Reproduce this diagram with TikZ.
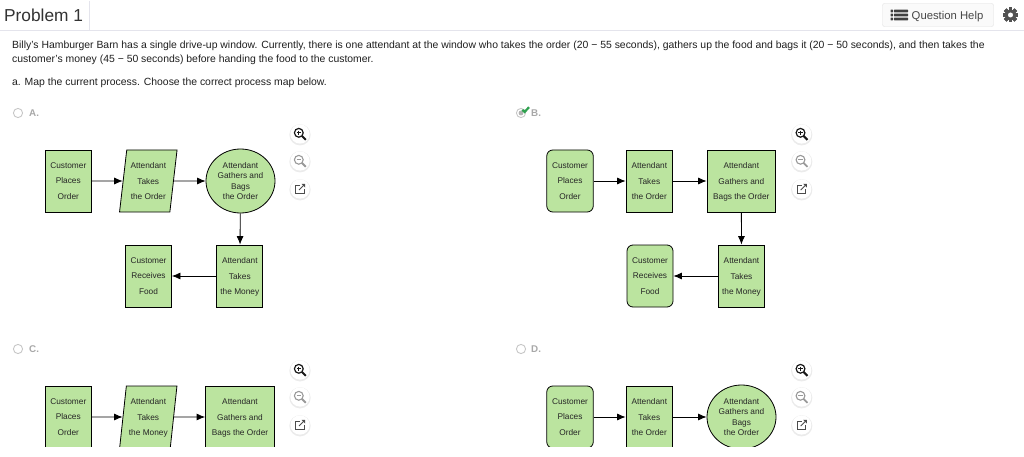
\documentclass[tikz,border=0pt]{standalone}
\usepackage{fontspec}
\setmainfont{Liberation Sans}
\usetikzlibrary{shapes.geometric,arrows.meta}
\definecolor{boxgreen}{HTML}{BBE49F}
\definecolor{hair}{HTML}{E4E4EC}
\definecolor{optgray}{HTML}{A8A8A8}
\definecolor{tick}{HTML}{2FA14F}
\tikzset{
  procbox/.style={draw=black,fill=boxgreen,line width=.8pt,inner sep=0pt,align=center,text=black!85,
    minimum height=62pt,text depth=0pt,font=\fontsize{8.3}{15.7}\selectfont},
  roundbox/.style={procbox,rounded corners=6pt},
  slantbox/.style={procbox,trapezium,trapezium left angle=81,trapezium right angle=99,trapezium stretches=true,minimum width=57.5pt},
  circbox/.style={procbox,ellipse,minimum width=69pt,minimum height=64pt,font=\fontsize{8.3}{10.6}\selectfont},
  flow/.style={-{Latex[length=8.5pt,width=7pt]},line width=.8pt,black},
  bodytext/.style={anchor=base west,inner sep=0pt,text=black!88,font=\fontsize{10.42}{12}\selectfont},
  optlabel/.style={anchor=base west,inner sep=0pt,text=optgray,font=\bfseries\fontsize{9.8}{11}\selectfont},
  radio/.style={draw=black!22,line width=.9pt,fill=white}
}
\newcommand{\mybuttons}[2]{%
  \foreach \dy/\c in {0/1,27/2,55/3}{
    \fill[black!8] (#1,#2+\dy+.8) circle (10.6pt);
    \fill[white] (#1,#2+\dy) circle (9.6pt);
  }
  \draw[black!90,line width=1.2pt] (#1-1.2,#2-1.2) circle (4.4pt);
  \draw[black!90,line width=2.1pt] (#1+1.8,#2+1.8) -- (#1+5.8,#2+5.8);
  \draw[black!90,line width=.9pt] (#1-3.4,#2-1.2) -- (#1+1,#2-1.2) (#1-1.2,#2-3.4) -- (#1-1.2,#2+1);
  \draw[black!40,line width=1.1pt] (#1-1.2,#2+25.8) circle (4.4pt);
  \draw[black!40,line width=1.8pt] (#1+1.8,#2+28.8) -- (#1+5.8,#2+32.8);
  \draw[black!40,line width=.8pt] (#1-3.4,#2+25.8) -- (#1+1,#2+25.8);
  \draw[black!70,line width=.9pt] (#1,#2+51) -- (#1-4.5,#2+51) -- (#1-4.5,#2+59.5) -- (#1+4,#2+59.5) -- (#1+4,#2+55);
  \draw[black!70,line width=1pt] (#1-1,#2+56) -- (#1+4,#2+51);
  \fill[black!70] (#1+1.5,#2+49.8) -- (#1+5.2,#2+49.8) -- (#1+5.2,#2+53.5) -- cycle;
}
\begin{document}
\begin{tikzpicture}[x=1pt,y=-1pt]
\useasboundingbox (0,0) rectangle (1024,457);
\fill[white] (0,0) rectangle (1024,457);
% header
\draw[hair,line width=.8pt] (0,30) -- (1024,30);
\draw[hair,line width=1pt] (89,1) -- (89,30);
\node[anchor=base west,inner sep=0pt,text=black!80,font=\fontsize{17.3}{20}\selectfont] (title) at (4,22) {Problem 1};
\draw[black!12,fill=black!2,rounded corners=2pt] (882.5,3.5) rectangle (993.5,26.5);
\foreach \yy in {11,15,19}{
  \fill[black!75,rounded corners=.6pt] (894,\yy-1.45) rectangle (908,\yy+1.45);
  \fill[black!75,rounded corners=.6pt] (890.5,\yy-1.45) rectangle (893,\yy+1.45);
}
\node[anchor=base west,inner sep=0pt,text=black!72,font=\fontsize{11.3}{13}\selectfont] (help) at (911.5,19.5) {Question Help};
\foreach \a in {0,45,...,315}
  \fill[black!68,rotate around={\a:(1010.5,15)}] (1008.6,7.5) rectangle (1012.4,22.5);
\fill[black!68] (1010.5,15) circle (5.6pt);
\fill[white] (1010.5,15) circle (2.5pt);
% question
\node[bodytext] (q1) at (12,49) {Billy's Hamburger Barn has a single drive-up window. Currently, there is one attendant at the window who takes the order (20 − 55 seconds), gathers up the food and bags it (20 − 50 seconds), and then takes the};
\node[bodytext] (q2) at (12,62.5) {customer's money (45 − 50 seconds) before handing the food to the customer.};
\node[bodytext] (q3) at (12,85.5) {a. Map the current process. Choose the correct process map below.};
% option marks
\draw[radio] (18,113) circle (4.6pt);
\node[optlabel] (la) at (29,116.5) {A.};
\draw[radio] (521,113) circle (4.6pt);
\fill[black!30] (521,113) circle (2.4pt);
\draw[tick,line width=2.2pt] (522.3,109.8) -- (524.6,112) -- (529,107.2);
\node[optlabel] (lb) at (531,116.5) {B.};
\draw[radio] (18,349) circle (4.6pt);
\node[optlabel] (lc) at (29,352.5) {C.};
\draw[radio] (521,349) circle (4.6pt);
\node[optlabel] (ld) at (531,352.5) {D.};
% A
\node[procbox,minimum width=46.5pt] (a1) at (68.3,181) {Customer\\Places\\Order};
\node[slantbox] (a2) at (148.3,181) {Attendant\\Takes\\the Order};
\node[circbox] (a3) at (240.5,181) {Attendant\\Gathers and\\Bags\\the Order};
\node[procbox,minimum width=46pt] (a4) at (239.8,276) {Attendant\\Takes\\the Money};
\node[procbox,minimum width=46pt] (a5) at (148.5,276) {Customer\\Receives\\Food};
\draw[flow] (a1) -- (a2);
\draw[flow] (a2) -- (a3);
\draw[flow] (a3) -- (a4);
\draw[flow] (a4) -- (a5);
\mybuttons{300}{134}
% B
\node[roundbox,minimum width=46.5pt] (b1) at (570,181) {Customer\\Places\\Order};
\node[procbox,minimum width=46.5pt] (b2) at (649.3,181) {Attendant\\Takes\\the Order};
\node[procbox,minimum width=68.5pt] (b3) at (741.3,181) {Attendant\\Gathers and\\Bags the Order};
\node[procbox,minimum width=46pt] (b4) at (741.5,276) {Attendant\\Takes\\the Money};
\node[roundbox,minimum width=46pt] (b5) at (650,276) {Customer\\Receives\\Food};
\draw[flow] (b1) -- (b2);
\draw[flow] (b2) -- (b3);
\draw[flow] (b3) -- (b4);
\draw[flow] (b4) -- (b5);
\mybuttons{801.7}{134}
% C and D, cut off at the lower edge
\begin{scope}
\clip (0,335) rectangle (1024,446.8);
\node[procbox,minimum width=46.5pt] (c1) at (68.3,417) {Customer\\Places\\Order};
\node[slantbox] (c2) at (148.3,417) {Attendant\\Takes\\the Money};
\node[procbox,minimum width=69pt] (c3) at (240,417) {Attendant\\Gathers and\\Bags the Order};
\draw[flow] (c1) -- (c2);
\draw[flow] (c2) -- (c3);
\node[roundbox,minimum width=46.5pt] (d1) at (570,417) {Customer\\Places\\Order};
\node[procbox,minimum width=46.5pt] (d2) at (649.3,417) {Attendant\\Takes\\the Order};
\node[circbox] (d3) at (741.5,417) {Attendant\\Gathers and\\Bags\\the Order};
\draw[flow] (d1) -- (d2);
\draw[flow] (d2) -- (d3);
\end{scope}
\mybuttons{300}{370}
\mybuttons{801.7}{370}
\end{tikzpicture}
\end{document}
